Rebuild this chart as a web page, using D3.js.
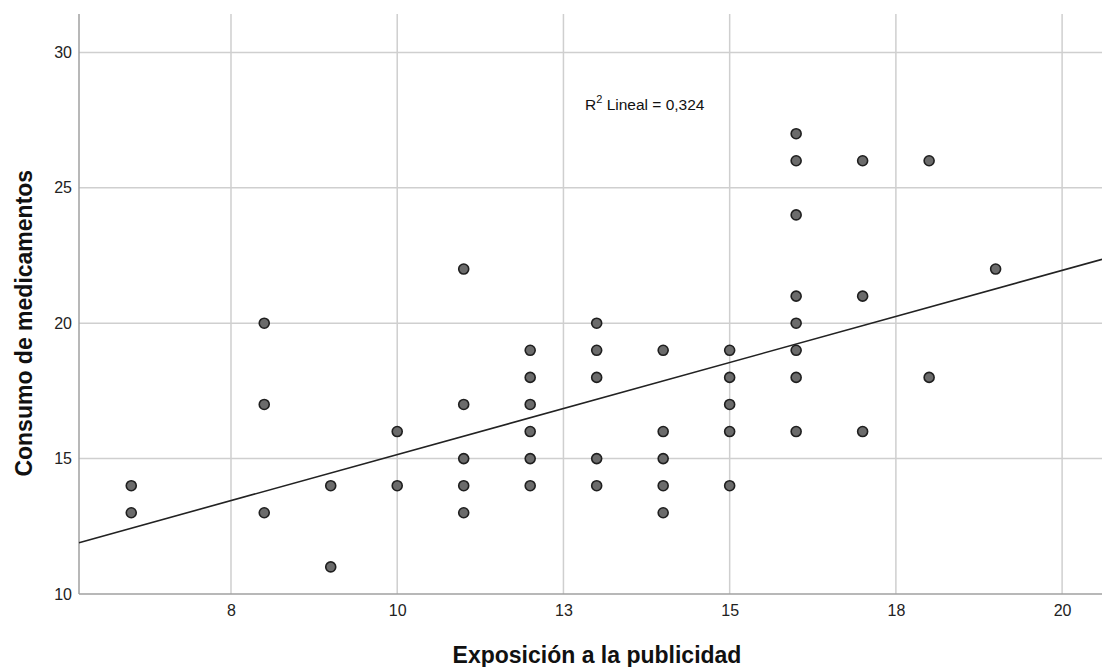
<!DOCTYPE html>
<html><head><meta charset="utf-8">
<script src="https://cdn.jsdelivr.net/npm/d3@7"></script>
<style>body{margin:0;background:#fff;}svg{display:block;font-family:"Liberation Sans",Arial,sans-serif;}</style>
</head><body><svg id="c" width="1102" height="667"></svg>
<script>
const xValues = [6,6, 8,8,8, 9,9, 10,10, 11,11,11,11,11, 12,12,12,12,12,12, 13,13,13,13,13, 14,14,14,14,14, 15,15,15,15,15, 16,16,16,16,16,16,16,16, 17,17,17, 18,18, 19];
const yValues = [14,13, 20,17,13, 14,11, 16,14, 22,17,15,14,13, 19,18,17,16,15,14, 20,19,18,15,14, 19,16,15,14,13, 19,18,17,16,14, 27,26,24,21,20,19,18,16, 26,21,16, 26,18, 22];
const xTicks = [7.5, 10, 12.5, 15, 17.5, 20];
const yTicks = [10, 15, 20, 25, 30];
const fitIntercept = 8.35, fitSlope = 0.68;
const r2Label = "0,324";

const svg = d3.select("#c");
const L = 79, R = 1102, T = 14, B = 594;
const x = d3.scaleLinear().domain([5.214, 20.6]).range([L, R]);
const y = d3.scaleLinear().domain([10, 31.42]).range([B, T]);

// grid
svg.append("g").selectAll("line").data(xTicks).join("line")
  .attr("x1", d => x(d)).attr("x2", d => x(d)).attr("y1", T).attr("y2", B)
  .attr("stroke", "#cfcfcf").attr("stroke-width", 1.5);
svg.append("g").selectAll("line").data(yTicks.slice(1)).join("line")
  .attr("x1", L).attr("x2", R).attr("y1", d => y(d)).attr("y2", d => y(d))
  .attr("stroke", "#cfcfcf").attr("stroke-width", 1.5);

// axes
const xa = svg.append("g").attr("transform", `translate(0,${B})`)
  .call(d3.axisBottom(x).tickValues(xTicks).tickSize(0).tickPadding(11).tickFormat(d => d3.format(".0f")(Math.round(d))));
const ya = svg.append("g").attr("transform", `translate(${L},0)`)
  .call(d3.axisLeft(y).tickValues(yTicks).tickSize(0).tickPadding(7));
[xa, ya].forEach(a => {
  a.select(".domain").attr("stroke", "#a0a0a0").attr("stroke-width", 1.5);
  a.selectAll("text").attr("font-size", 16).attr("fill", "#222").attr("font-family", "Liberation Sans, Arial, sans-serif");
});
xa.select(".domain").attr("d", `M${L},0H${R}`);
ya.select(".domain").attr("d", `M0,${T}V${B}`);

// fit line
const xd = x.domain();
svg.append("line")
  .attr("x1", x(xd[0])).attr("y1", y(fitIntercept + fitSlope * xd[0]))
  .attr("x2", x(xd[1])).attr("y2", y(fitIntercept + fitSlope * xd[1]))
  .attr("stroke", "#222").attr("stroke-width", 1.6);

// points
svg.append("g").selectAll("circle").data(xValues.map((v, i) => [v, yValues[i]])).join("circle")
  .attr("cx", d => x(d[0])).attr("cy", d => y(d[1])).attr("r", 5)
  .attr("fill", "#6b6b6b").attr("stroke", "#1f1f1f").attr("stroke-width", 1.6);

// R2 label
const t = svg.append("text").attr("x", 585).attr("y", 110).attr("font-size", 15.5).attr("fill", "#111");
t.append("tspan").text("R");
t.append("tspan").attr("dy", -7).attr("font-size", 11).text("2");
t.append("tspan").attr("dy", 7).text(" Lineal = " + r2Label);

// titles
svg.append("text").attr("x", 597).attr("y", 663).attr("text-anchor", "middle")
  .attr("font-size", 23).attr("font-weight", "bold").attr("fill", "#111").text("Exposición a la publicidad");
svg.append("text").attr("transform", `translate(32,${y(20)}) rotate(-90)`).attr("text-anchor", "middle")
  .attr("font-size", 23).attr("font-weight", "bold").attr("fill", "#111").text("Consumo de medicamentos");
</script></body></html>
